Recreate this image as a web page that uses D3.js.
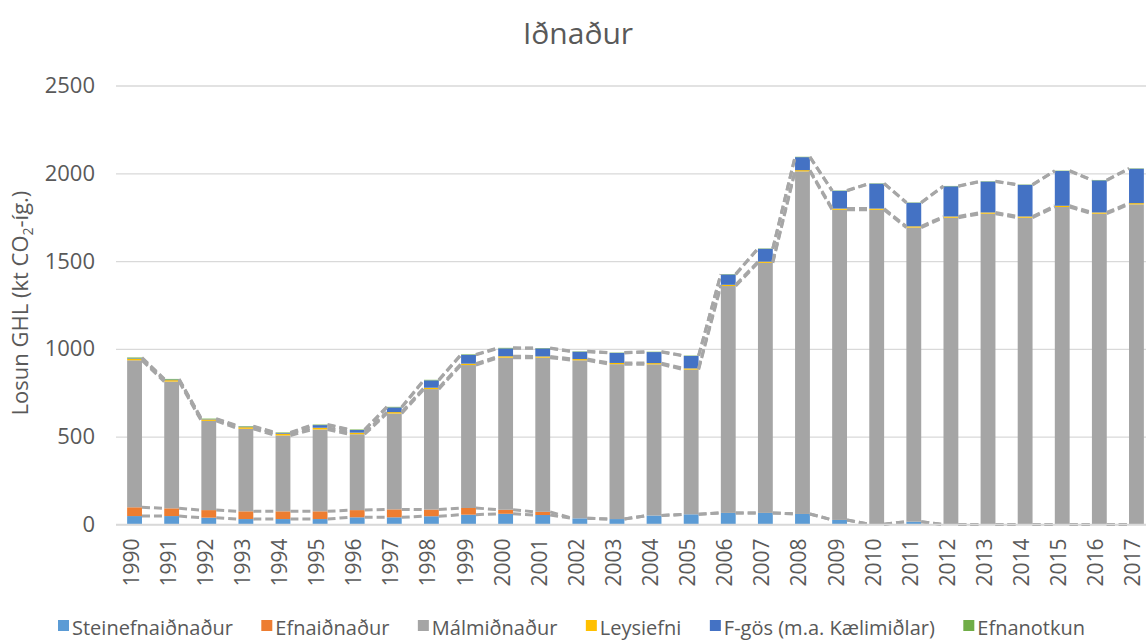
<!DOCTYPE html>
<html>
<head>
<meta charset="utf-8">
<script src="https://cdn.jsdelivr.net/npm/d3@7"></script>
<style>
  body { margin: 0; background: #fff; }
  svg { display: block; font-family: "Open Sans", "Noto Sans", sans-serif; }
</style>
</head>
<body>
<div id="chart"></div>
<script>
const width = 1146,
    height = 640,
    margin = ({ top: 85.5, right: -9, bottom: 115.5, left: 116 });

// data (kt CO2-íg.)
const years = d3.range(1990, 2018).map(String);
const seriesNames = ["Steinefnaiðnaður", "Efnaiðnaður", "Málmiðnaður", "Leysiefni", "F-gös (m.a. Kælimiðlar)", "Efnanotkun"];
const seriesColors = ["#5b9bd5", "#ed7d31", "#a5a5a5", "#ffc000", "#4472c4", "#70ad47"];

const steinefna = [48, 48, 39, 31, 31, 31, 41, 41, 47, 56, 61, 54, 35, 31, 51, 58, 66, 66, 60, 26, 2, 16, 0, 0, 0, 0, 0, 0];
const efna = [50, 44, 43, 44, 44, 44, 41, 45, 38, 38, 23, 18, 0, 0, 0, 0, 0, 0, 0, 0, 0, 0, 0, 0, 0, 0, 0, 0];
const malm = [837, 722, 508, 470, 432, 466, 432, 546, 686, 814, 866, 878, 900, 882, 861, 824, 1292, 1424, 1951, 1766, 1790, 1675, 1747, 1770, 1747, 1808, 1770, 1823];
const leysi = [8, 8, 8, 9, 10, 10, 9, 8, 8, 8, 8, 7, 7, 7, 7, 7, 7, 7, 7, 7, 7, 7, 7, 7, 7, 7, 7, 7];
const fgos = [3, 3, 2, 3, 4, 15, 15, 27, 42, 50, 45, 46, 42, 57, 63, 71, 59, 73, 74, 101, 142, 134, 172, 176, 180, 198, 183, 196];
const efnanotkun = [5, 4, 3, 3, 3, 3, 3, 3, 3, 3, 3, 2, 2, 2, 2, 2, 2, 2, 2, 2, 2, 2, 2, 2, 2, 2, 2, 2];
const yTicks = [0, 500, 1000, 1500, 2000, 2500];

const seriesValues = [steinefna, efna, malm, leysi, fgos, efnanotkun];
const table = years.map((yr, i) => {
    let row = { year: yr };
    seriesNames.forEach((s, k) => row[s] = seriesValues[k][i]);
    return row;
});

const svg = d3.select("#chart")
    .append("svg")
    .attr("width", width)
    .attr("height", height);

let x = d3.scaleBand()
    .domain(years)
    .range([margin.left, width - margin.right])
    .paddingInner(0.6)
    .paddingOuter(0.3);

let y = d3.scaleLinear()
    .domain([0, 2500])
    .range([height - margin.bottom, margin.top]);

const stacked = d3.stack().keys(seriesNames)(table);

// title
svg.append("text")
    .attr("x", 578)
    .attr("y", 44)
    .attr("text-anchor", "middle")
    .attr("font-size", 30)
    .attr("fill", "#595959")
    .text("Iðnaður");

// gridlines + y labels
let yAxis = svg.append("g")
    .attr("transform", `translate(${margin.left},0)`)
    .call(d3.axisLeft(y)
        .tickValues(yTicks)
        .tickFormat(d3.format("d"))
        .tickSize(-(width - margin.left + 20))
        .tickPadding(21)
    );
yAxis.select(".domain").remove();
yAxis.selectAll(".tick line").attr("stroke", "#d9d9d9").attr("stroke-width", 1.3);
yAxis.selectAll(".tick text")
    .attr("font-size", 22)
    .attr("fill", "#595959")
    .attr("font-family", "Open Sans, sans-serif");

// y axis title
let yTitle = svg.append("text")
    .attr("transform", `translate(28,${(margin.top + height - margin.bottom) / 2 - 2}) rotate(-90)`)
    .attr("text-anchor", "middle")
    .attr("font-size", 22)
    .attr("fill", "#595959");
yTitle.append("tspan").text("Losun GHL (kt CO");
yTitle.append("tspan").attr("font-size", 14).attr("dy", 5).text("2");
yTitle.append("tspan").attr("dy", -5).text("-íg.)");

// bars
svg.append("g")
    .selectAll("g")
    .data(stacked)
    .join("g")
    .attr("fill", (d, i) => seriesColors[i])
    .selectAll("rect")
    .data(d => d)
    .join("rect")
    .attr("x", d => x(d.data.year))
    .attr("y", d => y(d[1]))
    .attr("width", x.bandwidth())
    .attr("height", d => y(d[0]) - y(d[1]));

// series lines (top of each segment, bar to bar)
let seriesLines = svg.append("g")
    .attr("stroke", "#a6a6a6")
    .attr("stroke-width", 3)
    .attr("stroke-dasharray", "8,4")
    .attr("fill", "none");
for (let s of stacked) {
    for (let j = 0; j < s.length - 1; j++) {
        seriesLines.append("line")
            .attr("x1", x(years[j]) + x.bandwidth())
            .attr("y1", y(s[j][1]))
            .attr("x2", x(years[j + 1]))
            .attr("y2", y(s[j + 1][1]));
    }
}

// x axis baseline
svg.append("line")
    .attr("x1", margin.left)
    .attr("x2", width)
    .attr("y1", y(0))
    .attr("y2", y(0))
    .attr("stroke", "#d9d9d9")
    .attr("stroke-width", 1.3);

// x labels
svg.append("g")
    .selectAll("text")
    .data(years)
    .join("text")
    .attr("transform", d => `translate(${x(d) + x.bandwidth() / 2 + 4},${y(0) + 14}) rotate(-90)`)
    .attr("text-anchor", "end")
    .attr("font-size", 21)
    .attr("fill", "#595959")
    .text(d => d);

// legend: spread the items between x=58 and x=1085
let legend = svg.append("g")
    .attr("font-size", 20)
    .attr("fill", "#595959")
    .attr("transform", "translate(0,628)");
let groups = seriesNames.map((name, i) => {
    let g = legend.append("g");
    g.append("rect").attr("x", 0).attr("y", -8).attr("width", 11).attr("height", 11).attr("fill", seriesColors[i]);
    let t = g.append("text").attr("x", 14).attr("y", 0).attr("dy", "0.35em").text(name);
    return { g: g, w: 14 + t.node().getComputedTextLength() };
});
let sumW = d3.sum(groups, d => d.w);
let gap = (1085 - 58 - sumW) / (groups.length - 1);
let lx = 58;
for (let item of groups) {
    item.g.attr("transform", `translate(${lx},0)`);
    lx += item.w + gap;
}
</script>
</body>
</html>
